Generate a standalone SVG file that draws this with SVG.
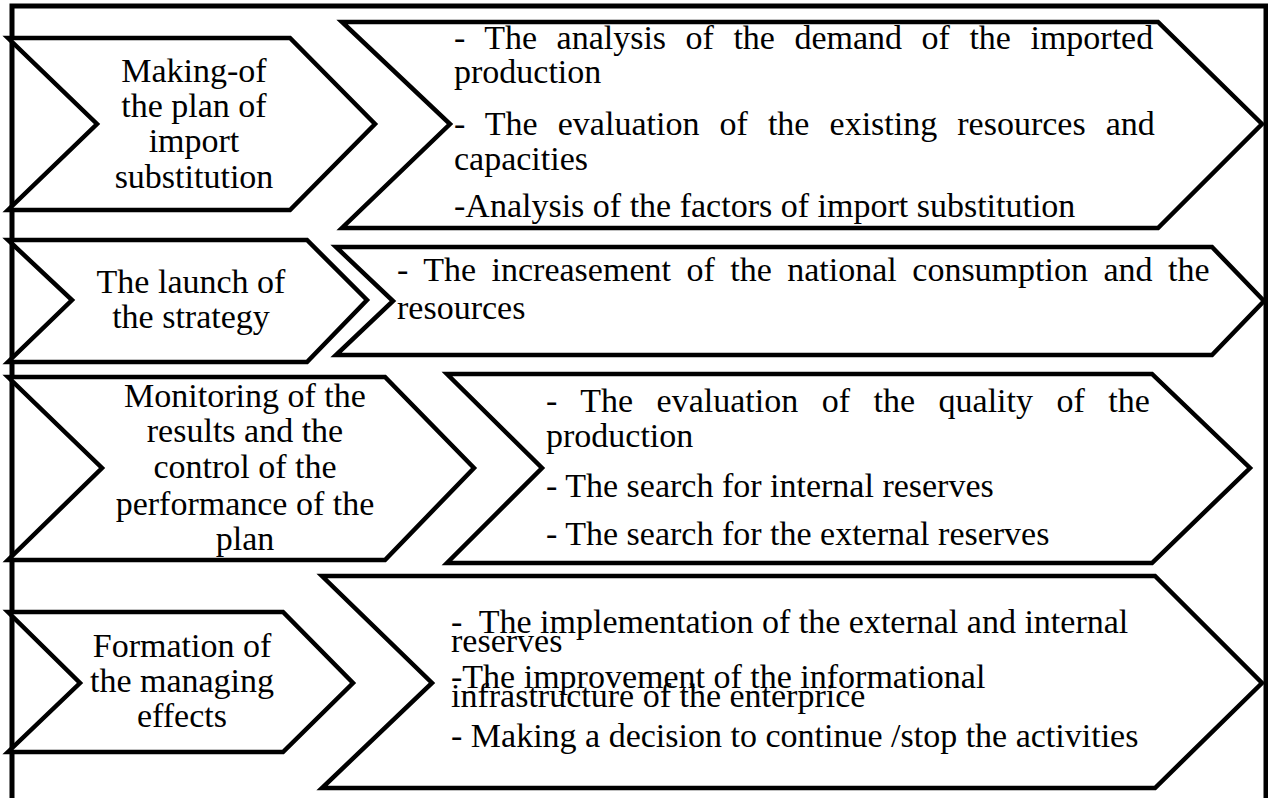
<svg xmlns="http://www.w3.org/2000/svg" width="1268" height="798" viewBox="0 0 1268 798">
<style>
.chev{fill:#fff;stroke:#000;stroke-width:4.5;stroke-linejoin:miter}
.frame{fill:none;stroke:#000;stroke-width:5}
text{font-family:"Liberation Serif","Times New Roman",serif;font-size:34px;fill:#000}
.c{text-anchor:middle}
.pre{white-space:pre}
</style>
<rect width="1268" height="798" fill="#fff"/>
<path class="frame" d="M12,798 V6 H1266 V798"/>
<g id="connectors"></g>

<g id="step1">
<polygon class="chev" points="8,38 290,38 375,124 290,210 8,210 97,124"/>
<text class="c" x="194" y="82">Making-of</text>
<text class="c" x="194" y="117">the plan of</text>
<text class="c" x="194" y="152">import</text>
<text class="c" x="194" y="188">substitution</text>
</g>
<g id="detail1">
<polygon class="chev" points="342,22 1158,22 1262,124 1158,228 342,228 450,124"/>
<text x="454" y="49" style="word-spacing:11px">- The analysis of the demand of the imported</text>
<text x="454" y="83">production</text>
<text x="454" y="135" style="word-spacing:11.6px">- The evaluation of the existing resources and</text>
<text x="454" y="170">capacities</text>
<text x="454" y="217">-Analysis of the factors of import substitution</text>
</g>

<g id="step2">
<polygon class="chev" points="8,240 307,240 367,300 307,362 8,362 72,300"/>
<text class="c" x="191" y="293">The launch of</text>
<text class="c" x="191" y="328">the strategy</text>
</g>
<g id="detail2">
<polygon class="chev" points="336,247 1212,247 1264,301 1212,355 336,355 393,301"/>
<text x="397" y="281" style="word-spacing:7px">- The increasement of the national consumption and the</text>
<text x="397" y="319">resources</text>
</g>

<g id="step3">
<polygon class="chev" points="8,377 385,377 474,468 385,560 8,560 102,468"/>
<text class="c" x="245" y="407">Monitoring of the</text>
<text class="c" x="245" y="442">results and the</text>
<text class="c" x="245" y="478">control of the</text>
<text class="c" x="245" y="515">performance of the</text>
<text class="c" x="245" y="550">plan</text>
</g>
<g id="detail3">
<polygon class="chev" points="447,374 1152,374 1250,468 1152,563 447,563 542,468"/>
<text x="546" y="412" style="word-spacing:15px">- The evaluation of the quality of the</text>
<text x="546" y="447">production</text>
<text x="546" y="497">- The search for internal reserves</text>
<text x="546" y="545">- The search for the external reserves</text>
</g>

<g id="step4">
<polygon class="chev" points="8,612 283,612 353,683 283,752 8,752 80,683"/>
<text class="c" x="182" y="657">Formation of</text>
<text class="c" x="182" y="692">the managing</text>
<text class="c" x="182" y="727">effects</text>
</g>
<g id="detail4">
<polygon class="chev" points="322,576 1155,576 1262,683 1155,788 322,788 432,683"/>
<text class="pre" x="451" y="633">-  The implementation of the external and internal</text>
<text x="451" y="652">reserves</text>
<text x="451" y="688">-The improvement of the informational</text>
<text x="451" y="707">infrastructure of the enterprice</text>
<text x="451" y="747">- Making a decision to continue /stop the activities</text>
</g>
</svg>
